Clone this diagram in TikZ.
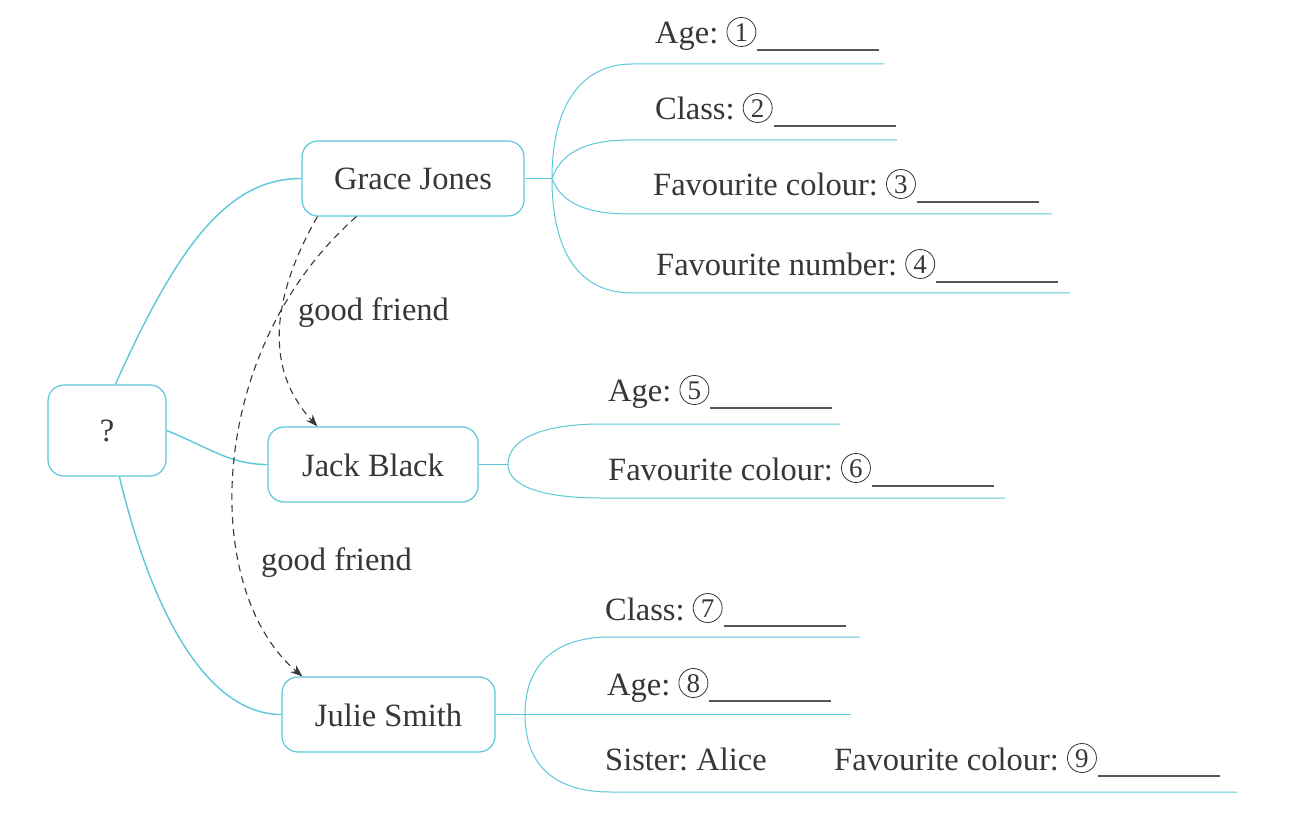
\documentclass[tikz,border=0pt]{standalone}
\usepackage{fontspec}
\setmainfont{Liberation Serif}
\usetikzlibrary{arrows.meta,calc}
\definecolor{cy}{RGB}{92,200,218}
\definecolor{txt}{RGB}{55,55,55}
\definecolor{ulc}{RGB}{85,85,85}
\frenchspacing
\newcommand\blank[1]{\tikz[baseline=0pt]{\draw[draw=txt,line width=0.8pt] (15pt,12pt) circle (14.5pt);
  \node[anchor=base,inner sep=0pt,text=txt,font=\fontsize{27}{27}\selectfont] at (15pt,2.5pt) {#1};
  \draw[draw=ulc,line width=1.3pt] (31pt,-6pt) -- (153pt,-6pt);}}
\begin{document}
\begin{tikzpicture}[x=1pt,y=-1pt,
  every node/.style={font=\fontsize{32.5}{39}\selectfont},
  box/.style={draw=cy,line width=1.2pt,rounded corners=16pt,text=txt,minimum height=75pt,text height=23pt,text depth=0pt,inner sep=0pt},
  conn/.style={draw=cy,line width=1.4pt},
  br/.style={draw=cy,line width=1pt},
  lbl/.style={anchor=base west,inner sep=0pt,text=txt},
  friend/.style={draw=txt,line width=1.1pt,dash pattern=on 7pt off 5pt,-{Stealth[length=12pt,width=9pt]}}]
\fill[white] (0,0) rectangle (1310,818);
\useasboundingbox (0,0) rectangle (1310,818);

% main nodes
\node[box,minimum width=118pt,minimum height=91pt] (q) at (107,430.5) {?};
\node[box,minimum width=222pt] (grace) at (413,178.5) {Grace Jones};
\node[box,minimum width=210pt] (jack) at (373,464.5) {Jack Black};
\node[box,minimum width=213pt] (julie) at (388.5,714.5) {Julie Smith};

% connectors from ?
\draw[conn] ($(q.north west)+(68,0)$) .. controls (180,240) and (230,178.5) .. (grace.west);
\draw[conn] (q.east) .. controls (210,448) and (230,464.5) .. (jack.west);
\draw[conn] ($(q.south west)+(72,0)$) .. controls (155,625) and (212,714.5) .. (julie.west);

% Grace branches
\coordinate (j1) at (552,178.5);
\draw[br] (grace.east) -- (j1);
\draw[br] (j1) .. controls (552,100) and (585,64) .. (632,64) -- (884,64);
\draw[br] (j1) .. controls (562,150) and (590,140) .. (630,140) -- (897,140);
\draw[br] (j1) .. controls (562,205) and (590,214) .. (630,214) -- (1052,214);
\draw[br] (j1) .. controls (552,260) and (585,293) .. (632,293) -- (1070,293);

% Jack branches
\coordinate (j2) at (508,464.5);
\draw[br] (jack.east) -- (j2);
\draw[br] (j2) .. controls (508,438) and (545,424) .. (600,424) -- (840,424);
\draw[br] (j2) .. controls (508,487) and (545,498) .. (600,498) -- (1005,498);

% Julie branches
\coordinate (j3) at (525,714.5);
\draw[br] (julie.east) -- (851,714.5);
\draw[br] (j3) .. controls (525,660) and (560,637) .. (610,637) -- (860,637);
\draw[br] (j3) .. controls (525,770) and (560,792) .. (610,792) -- (1237,792);

% good friend arrows
\draw[friend] ($(grace.south west)+(16,0)$) .. controls (270,300) and (265,370) .. ($(jack.north west)+(50,0)$);
\draw[friend] ($(grace.south west)+(55,0)$) .. controls (205,350) and (200,590) .. ($(julie.north west)+(21,0)$);
\node[lbl] (gf1) at (298,321) {good friend};
\node[lbl] (gf2) at (261,570) {good friend};

% labels
\node[lbl] (l1) at (655,44) {Age: \blank{1}};
\node[lbl] (l2) at (655,120) {Class: \blank{2}};
\node[lbl] (l3) at (653,196) {Favourite colour: \blank{3}};
\node[lbl] (l4) at (656,276) {Favourite number: \blank{4}};
\node[lbl] (l5) at (608,402) {Age: \blank{5}};
\node[lbl] (l6) at (608,480) {Favourite colour: \blank{6}};
\node[lbl] (l7) at (605,620) {Class: \blank{7}};
\node[lbl] (l8) at (607,695) {Age: \blank{8}};
\node[lbl] (l9) at (605,770) {Sister: Alice};
\node[lbl] (l10) at (834,770) {Favourite colour: \blank{9}};
\end{tikzpicture}
\end{document}
